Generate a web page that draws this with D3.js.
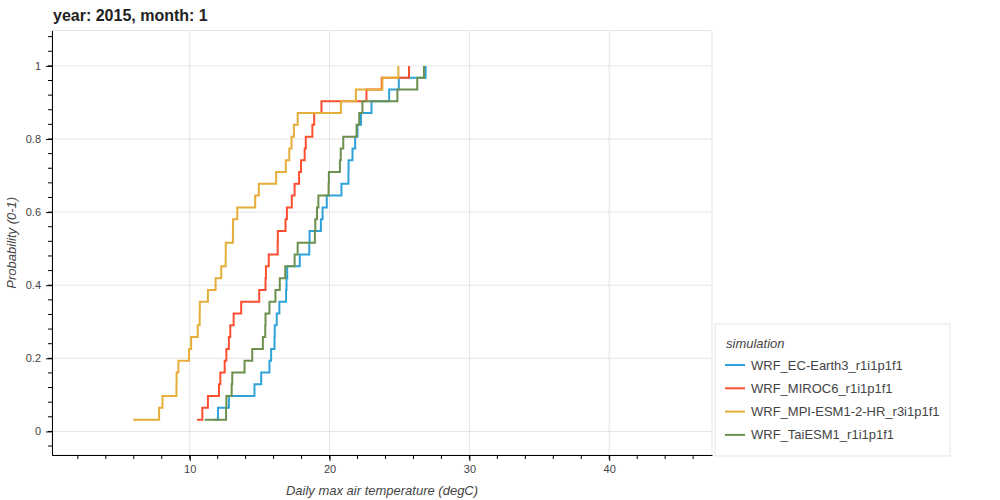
<!DOCTYPE html>
<html>
<head>
<meta charset="utf-8">
<script src="https://cdn.jsdelivr.net/npm/d3@7"></script>
<style>
  html, body { margin: 0; padding: 0; background: #fff; }
  svg { display: block; font-family: "Liberation Sans", Arial, Helvetica, sans-serif; }
  .tick-label { font-size: 11px; fill: #444; }
  .axis-title { font-size: 13px; font-style: italic; fill: #444; }
  .legend-label { font-size: 13px; fill: #444; }
</style>
</head>
<body>
<svg id="chart" width="1000" height="500"></svg>
<script>
// ECDF of daily max air temperature, January 2015 (31 days per simulation)
const simulations = [
  "WRF_EC-Earth3_r1i1p1f1",
  "WRF_MIROC6_r1i1p1f1",
  "WRF_MPI-ESM1-2-HR_r3i1p1f1",
  "WRF_TaiESM1_r1i1p1f1"
];
const colors = ["#30a2da", "#fc4f30", "#e5ae38", "#6d904f"];

// sorted daily values (degC)
const ecEarth3 = [11.8, 12.02, 12.8, 14.63, 15.11, 15.7, 15.82, 16.06, 16.08, 16.22, 16.41,
  16.89, 16.92, 16.97, 17.87, 18.55, 18.57, 19.38, 19.5, 19.8, 20.85, 21.35, 21.36, 21.64,
  21.83, 22.0, 22.25, 23.0, 24.26, 24.95, 26.87];
const miroc6 = [10.52, 10.9, 11.3, 12.09, 12.19, 12.5, 12.62, 12.8, 12.9, 13.14, 13.68,
  14.97, 15.42, 15.45, 15.65, 16.29, 16.3, 16.85, 16.95, 17.3, 17.5, 17.82, 17.96, 18.22,
  18.3, 18.77, 18.9, 19.42, 22.64, 23.73, 25.68];
const mpiEsm = [5.96, 7.81, 8.05, 9.05, 9.06, 9.19, 9.95, 10.1, 10.57, 10.71, 10.72,
  11.3, 11.85, 12.25, 12.57, 12.58, 13.09, 13.1, 13.4, 14.68, 14.94, 16.18, 16.87, 17.12,
  17.28, 17.45, 17.72, 20.81, 21.88, 23.78, 24.92];
const taiEsm = [11.07, 12.6, 12.62, 13.0, 13.04, 13.92, 14.47, 15.23, 15.4, 15.42, 15.7,
  16.13, 16.44, 16.83, 17.5, 17.72, 18.95, 18.98, 19.1, 19.2, 19.93, 19.95, 20.74, 20.8,
  20.98, 21.93, 22.12, 22.35, 24.85, 26.27, 26.75];

const xTicks = [10, 20, 30, 40];
const yTicks = [0, 0.2, 0.4, 0.6, 0.8, 1];
const xDomain = [0.15, 47.35];
const yDomain = [-0.0645, 1.0968];

const series = [ecEarth3, miroc6, mpiEsm, taiEsm];

// Layout
const frame = { left: 52, right: 712, top: 30.5, bottom: 455 };
const svg = d3.select("#chart");

const x = d3.scaleLinear().domain(xDomain).range([frame.left, frame.right]);
const y = d3.scaleLinear().domain(yDomain).range([frame.bottom, frame.top]);

// grid + outline
const grid = svg.append("g");
grid.selectAll(".gx").data(xTicks).join("line")
  .attr("x1", d => x(d)).attr("x2", d => x(d))
  .attr("y1", frame.top).attr("y2", frame.bottom)
  .attr("stroke", "#e5e5e5");
grid.selectAll(".gy").data(yTicks).join("line")
  .attr("x1", frame.left).attr("x2", frame.right)
  .attr("y1", d => y(d)).attr("y2", d => y(d))
  .attr("stroke", "#e5e5e5");
svg.append("rect")
  .attr("x", frame.left).attr("y", frame.top)
  .attr("width", frame.right - frame.left).attr("height", frame.bottom - frame.top)
  .attr("fill", "none").attr("stroke", "#e5e5e5");

// ECDF step lines
const line = d3.line()
  .x(d => x(d[0]))
  .y(d => y(d[1]))
  .curve(d3.curveStepAfter);

series.forEach((vals, si) => {
  const n = vals.length;
  const pts = vals.map((v, i) => [v, (i + 1) / n]);
  svg.append("path")
    .datum(pts)
    .attr("d", line)
    .attr("fill", "none")
    .attr("stroke", colors[si])
    .attr("stroke-width", 2);
});

// axes
const xMinor = d3.range(2, 48, 2).filter(d => d >= xDomain[0] && d <= xDomain[1]);
const yMinor = d3.range(-0.04, 1.1, 0.04).filter(d => d >= yDomain[0] && d <= yDomain[1]);

const xAxis = svg.append("g").attr("transform", `translate(0,${frame.bottom})`);
xAxis.call(d3.axisBottom(x).tickValues(xTicks).tickSize(6).tickSizeOuter(0).tickPadding(4).tickFormat(d3.format("d")));
xAxis.append("g").selectAll("line").data(xMinor).join("line")
  .attr("x1", d => x(d)).attr("x2", d => x(d)).attr("y1", 0).attr("y2", 4)
  .attr("stroke", "#000");

const yAxis = svg.append("g").attr("transform", `translate(${frame.left},0)`);
yAxis.call(d3.axisLeft(y).tickValues(yTicks).tickSize(6).tickSizeOuter(0).tickPadding(5).tickFormat(d => d3.format("~g")(d)));
yAxis.append("g").selectAll("line").data(yMinor).join("line")
  .attr("x1", 0).attr("x2", -4).attr("y1", d => y(d)).attr("y2", d => y(d))
  .attr("stroke", "#000");

[xAxis, yAxis].forEach(a => {
  a.select(".domain").attr("stroke", "#000");
  a.selectAll(".tick line").attr("stroke", "#000");
  a.selectAll(".tick text").attr("class", "tick-label").attr("font-family", null).attr("font-size", null).attr("fill", null);
});

// titles
svg.append("text")
  .attr("x", 53).attr("y", 21)
  .attr("font-size", "16px").attr("font-weight", "bold").attr("fill", "#222")
  .text("year: 2015, month: 1");

svg.append("text").attr("class", "axis-title")
  .attr("x", (frame.left + frame.right) / 2).attr("y", 495)
  .attr("text-anchor", "middle")
  .text("Daily max air temperature (degC)");

svg.append("text").attr("class", "axis-title")
  .attr("transform", `translate(16,${(frame.top + frame.bottom) / 2}) rotate(-90)`)
  .attr("text-anchor", "middle")
  .text("Probability (0-1)");

// legend
const lg = svg.append("g").attr("transform", "translate(715,324)");
lg.append("rect").attr("width", 235).attr("height", 132)
  .attr("fill", "#fff").attr("fill-opacity", 0.95).attr("stroke", "#e5e5e5");
lg.append("text").attr("class", "axis-title")
  .attr("x", 11).attr("y", 24)
  .text("simulation");
simulations.forEach((s, i) => {
  const cy = 41 + i * 23.3;
  lg.append("line")
    .attr("x1", 10).attr("x2", 30).attr("y1", cy).attr("y2", cy)
    .attr("stroke", colors[i]).attr("stroke-width", 2);
  lg.append("text").attr("class", "legend-label")
    .attr("x", 36).attr("y", cy + 4.5)
    .text(s);
});
</script>
</body>
</html>
